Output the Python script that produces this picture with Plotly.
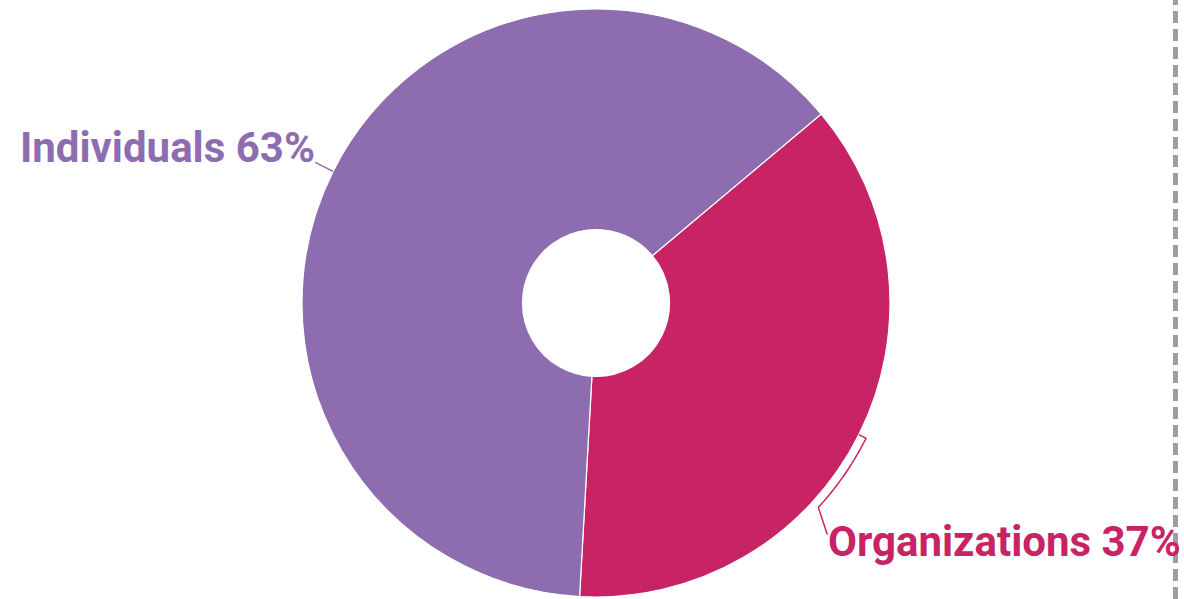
import math
import plotly.graph_objects as go

# Donut chart: share of contributors by type
labels = ["Organizations", "Individuals"]
values = [37, 63]
colors = ["#c72365", "#8d6db0"]

W, H = 1184, 599
CX, CY, R = 596, 303, 294      # donut centre and outer radius, in pixels
HOLE = 0.25
ROTATION = 50                  # first slice starts 50 deg clockwise from 12 o'clock
FONT = "Roboto"
FONT_SIZE = 42


def px(x):
    return x / W


def py(y):
    return 1 - y / H


def polar(angle_deg, r):
    a = math.radians(angle_deg)
    return CX + r * math.sin(a), CY - r * math.cos(a)


fig = go.Figure(
    go.Pie(
        labels=labels,
        values=values,
        hole=HOLE,
        sort=False,
        direction="clockwise",
        rotation=ROTATION,
        marker=dict(colors=colors, line=dict(color="white", width=1.2)),
        textinfo="none",
        hoverinfo="label+percent",
        domain=dict(x=[px(CX - R), px(CX + R)], y=[py(CY + R), py(CY - R)]),
        showlegend=False,
    )
)

# mid angle of every slice
total = sum(values)
mids = []
start = ROTATION
for v in values:
    span = 360 * v / total
    mids.append(start + span / 2)
    start += span

shapes = []
annotations = []

# Organizations: bracket leader hugging the outer edge, label below-right
m = mids[0]
p0 = polar(m, R)
arc = [polar(m + t * 16 / 20, R + 8) for t in range(21)]
end = (arc[-1][0] + 9, arc[-1][1] + 27)
path = f"M {px(p0[0])},{py(p0[1])}"
for x, y in arc + [end]:
    path += f" L {px(x)},{py(y)}"
shapes.append(dict(type="path", xref="paper", yref="paper", path=path,
                   line=dict(color=colors[0], width=1.5)))
annotations.append(dict(
    x=px(end[0] - 1), y=py(end[1] + 7), xref="paper", yref="paper",
    xanchor="left", yanchor="middle", showarrow=False,
    text=f"<b>{labels[0]} {values[0]}%</b>",
    font=dict(family=FONT, size=FONT_SIZE, color=colors[0]),
))

# Individuals: short straight leader, label to the left
m = mids[1]
p0 = polar(m, R)
p1 = polar(m, R + 20)
shapes.append(dict(type="line", xref="paper", yref="paper",
                   x0=px(p0[0]), y0=py(p0[1]), x1=px(p1[0]), y1=py(p1[1]),
                   line=dict(color=colors[1], width=1.5)))
annotations.append(dict(
    x=px(p1[0] + 2), y=py(p1[1] - 15), xref="paper", yref="paper",
    xanchor="right", yanchor="middle", showarrow=False,
    text=f"<b>{labels[1]} {values[1]}%</b>",
    font=dict(family=FONT, size=FONT_SIZE, color=colors[1]),
))

# dashed divider on the right edge
shapes.append(dict(type="line", xref="paper", yref="paper",
                   x0=px(1175.5), x1=px(1175.5), y0=0, y1=1,
                   line=dict(color="#9e9e9e", width=5, dash="12px,6px")))

fig.update_layout(
    width=W, height=H,
    margin=dict(l=0, r=0, t=0, b=0),
    paper_bgcolor="white", plot_bgcolor="white",
    shapes=shapes, annotations=annotations,
)

fig.write_html("out.html")
